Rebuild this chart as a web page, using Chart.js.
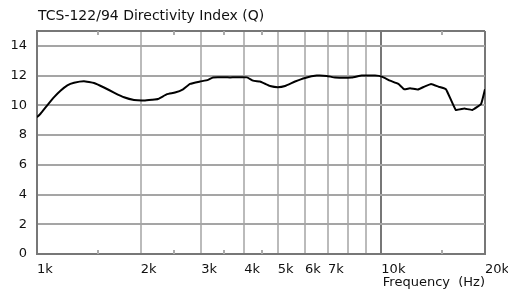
<!DOCTYPE html>
<html>
<head>
<meta charset="utf-8">
<script src="https://cdn.jsdelivr.net/npm/chart.js@4"></script>
<style>
    html, body { margin: 0; padding: 0; background: #fff; }
    #wrap { width: 508px; height: 293px; }
</style>
</head>
<body>
<div id="wrap"><canvas id="dichart" width="508" height="293"></canvas></div>
<script>
// Directivity index
const chartTitle = 'TCS-122/94 Directivity Index (Q)';
const freqs = [1000, 1025, 1071, 1121, 1172, 1225, 1281, 1369, 1464, 1565, 1673, 1789, 1913, 2046,
    2158, 2246, 2386, 2516, 2655, 2782, 2975, 3138, 3244, 3636, 4073, 4241, 4443, 4594, 4751, 5003,
    5253, 5615, 6002, 6492, 6940, 7338, 8204, 8771, 9587, 10027, 10600, 11206, 11662, 12117, 12758,
    13335, 13946, 14637, 15412, 16450, 17420, 18377, 19483, 20000];
const qValues = [9.2, 9.45, 10.0, 10.55, 11.0, 11.35, 11.52, 11.62, 11.5, 11.2, 10.86, 10.54, 10.36, 10.33,
    10.38, 10.43, 10.75, 10.86, 11.08, 11.44, 11.6, 11.71, 11.88, 11.88, 11.88, 11.66, 11.6, 11.45, 11.3, 11.22,
    11.3, 11.6, 11.84, 12.0, 11.98, 11.87, 11.87, 12.0, 12.0, 11.93, 11.66, 11.44, 11.08, 11.15, 11.06,
    11.26, 11.44, 11.26, 11.08, 9.69, 9.78, 9.69, 10.09, 11.08];

const xTicks = [1000, 2000, 3000, 4000, 5000, 6000, 7000, 8000, 9000, 10000, 20000];
const xLabels = ['1k', '2k', '3k', '4k', '5k', '6k', '7k', '', '', '10k', '20k'];
const minorTicks = [1500, 2500, 3500, 4500, 15000];
const yTicks = [0, 2, 4, 6, 8, 10, 12, 14, 15];
const yLabels = ['0', '2', '4', '6', '8', '10', '12', '14', ''];

const FONT = 'DejaVu Sans';
const DARK = '#777';

// title sits over the left edge of the plot, not the canvas
const titlePlugin = {
    id: 'plotTitle',
    afterDraw(chart) {
        const ctx = chart.ctx;
        ctx.save();
        ctx.font = '14px "' + FONT + '"';
        ctx.fillStyle = '#111';
        ctx.textBaseline = 'middle';
        ctx.fillText(chartTitle, chart.chartArea.left + 1, 16);
        ctx.restore();
    }
};

// short inner tick marks at top and bottom for the half-steps
const minorTickPlugin = {
    id: 'minorTicks',
    afterDatasetsDraw(chart) {
        const ctx = chart.ctx;
        const area = chart.chartArea;
        const xs = chart.scales.x;
        ctx.save();
        ctx.strokeStyle = '#aaa';
        ctx.lineWidth = 2;
        minorTicks.forEach((f) => {
            const px = Math.round(xs.getPixelForValue(f));
            ctx.beginPath();
            ctx.moveTo(px, area.top);
            ctx.lineTo(px, area.top + 4);
            ctx.moveTo(px, area.bottom);
            ctx.lineTo(px, area.bottom - 4);
            ctx.stroke();
        });
        ctx.restore();
    }
};

function xGridColor(c) {
    const v = xTicks[c.index];
    return (v === 1000 || v === 10000 || v === 20000) ? DARK : '#bbb';
}

function yGridColor(c) {
    const v = yTicks[c.index];
    return (v === 0 || v === 15) ? DARK : '#a5a5a5';
}

const points = freqs.map((f, i) => ({ x: f, y: qValues[i] }));

new Chart(document.getElementById('dichart'), {
    type: 'line',
    data: {
        datasets: [{
            data: points,
            borderColor: '#000',
            borderWidth: 2,
            pointRadius: 0,
            tension: 0.1,
            fill: false,
        }],
    },
    options: {
        responsive: false,
        animation: false,
        layout: { padding: { left: 0, right: 23, top: 31, bottom: 0 } },
        plugins: {
            legend: { display: false },
            tooltip: { enabled: false },
            title: { display: false },
        },
        scales: {
            x: {
                type: 'logarithmic',
                min: 1000,
                max: 20000,
                afterBuildTicks: (scale) => {
                    scale.ticks = xTicks.map((v) => ({ value: v }));
                },
                afterFit: (scale) => {
                    scale.height = 39;
                    // let the 20k label hang into the right padding
                    scale.paddingLeft = 0;
                    scale.paddingRight = 0;
                },
                ticks: {
                    align: 'start',
                    autoSkip: false,
                    maxRotation: 0,
                    padding: 8,
                    color: '#111',
                    font: { family: FONT, size: 13 },
                    callback: (value, index) => xLabels[index],
                },
                grid: {
                    drawTicks: false,
                    lineWidth: 2,
                    color: xGridColor,
                },
                border: { display: true, color: DARK, width: 2 },
                title: {
                    display: true,
                    text: 'Frequency  (Hz)',
                    align: 'end',
                    color: '#111',
                    font: { family: FONT, size: 13 },
                    padding: { top: 0, bottom: 3 },
                },
            },
            y: {
                min: 0,
                max: 15,
                afterBuildTicks: (scale) => {
                    scale.ticks = yTicks.map((v) => ({ value: v }));
                },
                afterFit: (scale) => { scale.width = 37; },
                ticks: {
                    padding: 10,
                    color: '#111',
                    font: { family: FONT, size: 13 },
                    callback: (value, index) => yLabels[index],
                },
                grid: {
                    drawTicks: false,
                    lineWidth: 2,
                    color: yGridColor,
                },
                border: { display: true, color: DARK, width: 2 },
            },
        },
    },
    plugins: [titlePlugin, minorTickPlugin],
});
</script>
</body>
</html>
